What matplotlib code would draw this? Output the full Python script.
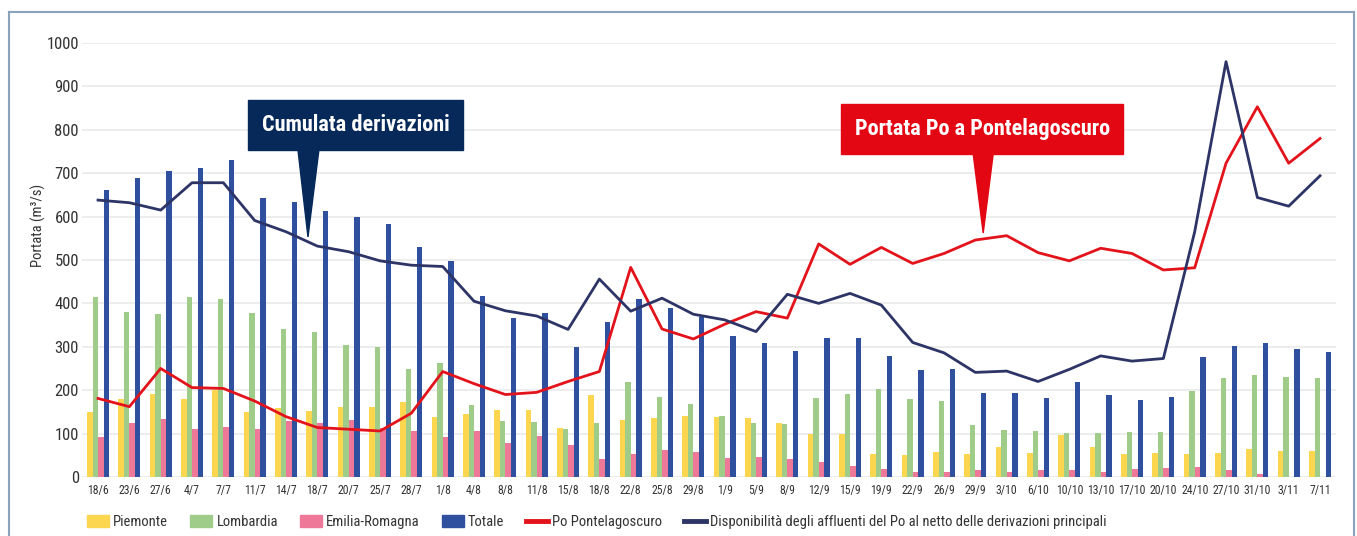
import matplotlib
matplotlib.use("Agg")
import matplotlib.pyplot as plt
from matplotlib.patches import Polygon, Rectangle, Patch
from matplotlib.lines import Line2D
import numpy as np

plt.rcParams['font.family'] = ['Roboto Condensed', 'Open Sans Condensed', 'Roboto', 'DejaVu Sans']

# Dates (rilevazioni)
dates = ["18/6", "23/6", "27/6", "4/7", "7/7", "11/7", "14/7", "18/7", "20/7", "25/7",
         "28/7", "1/8", "4/8", "8/8", "11/8", "15/8", "18/8", "22/8", "25/8", "29/8",
         "1/9", "5/9", "8/9", "12/9", "15/9", "19/9", "22/9", "26/9", "29/9", "3/10",
         "6/10", "10/10", "13/10", "17/10", "20/10", "24/10", "27/10", "31/10", "3/11", "7/11"]

piemonte = [149, 179, 191, 180, 200, 149, 158, 152, 161, 162,
            172, 139, 145, 154, 154, 114, 190, 131, 137, 141,
            139, 137, 125, 100, 98, 53, 50, 58, 53, 70,
            56, 97, 70, 53, 56, 52, 55, 64, 61, 60]

lombardia = [415, 381, 375, 415, 411, 379, 340, 335, 303, 300,
             248, 262, 165, 130, 126, 110, 125, 220, 185, 168,
             141, 124, 121, 183, 192, 203, 180, 174, 120, 108,
             106, 101, 101, 104, 104, 198, 227, 234, 231, 227]

emilia = [93, 125, 134, 111, 116, 111, 130, 124, 131, 112,
          106, 93, 105, 79, 94, 73, 41, 53, 62, 57,
          43, 45, 41, 34, 26, 19, 12, 12, 16, 11,
          15, 16, 12, 18, 20, 24, 16, 6, 1, 1]

totale = [662, 690, 705, 711, 730, 642, 634, 614, 598, 582,
          531, 498, 418, 366, 377, 300, 358, 410, 389, 368,
          325, 308, 290, 320, 320, 279, 247, 248, 193, 193,
          183, 218, 189, 177, 184, 277, 302, 308, 296, 288]

po_pontelagoscuro = [181, 162, 250, 206, 204, 175, 139, 114, 110, 106,
                     147, 243, 215, 190, 195, 220, 243, 483, 341, 318,
                     352, 381, 366, 537, 490, 529, 492, 515, 546, 556,
                     517, 498, 527, 515, 477, 482, 723, 853, 723, 780]

disponibilita = [638, 632, 615, 678, 678, 591, 565, 532, 519, 498,
                 488, 485, 405, 383, 371, 340, 456, 382, 412, 375,
                 362, 335, 421, 400, 423, 396, 310, 286, 241, 244,
                 220, 248, 279, 267, 273, 565, 957, 644, 624, 694]

c_yellow = "#fdd64f"
c_green = "#a0cc8a"
c_pink = "#ee7898"
c_blue = "#2f4f9f"
c_red = "#e3131b"
c_navy = "#2d3466"
c_text = "#333333"

fig = plt.figure(figsize=(13.57, 5.36), dpi=100)
ax = fig.add_axes([0.0607, 0.1101, 0.9236, 0.8097])

x = np.arange(len(dates))
w = 0.175
ax.bar(x - 1.5 * w, piemonte, w, color=c_yellow, zorder=2)
ax.bar(x - 0.5 * w, lombardia, w, color=c_green, zorder=2)
ax.bar(x + 0.5 * w, emilia, w, color=c_pink, zorder=2)
ax.bar(x + 1.5 * w, totale, w, color=c_blue, zorder=2)
ax.plot(x, po_pontelagoscuro, color=c_red, lw=2.0, zorder=3)
ax.plot(x, disponibilita, color=c_navy, lw=2.0, zorder=3)

ax.set_xlim(-0.5, len(dates) - 0.5)
ax.set_ylim(0, 1000)
ax.set_yticks(range(0, 1001, 100))
ax.set_xticks(x)
ax.set_xticklabels(dates)
ax.tick_params(axis="both", length=0, colors=c_text)
ax.tick_params(axis="y", labelsize=12, pad=2.5)
ax.tick_params(axis="x", labelsize=8.5, pad=5)
ax.grid(axis="y", color="#ececec", lw=1.3, zorder=0)
for s in ax.spines.values():
    s.set_visible(False)

fig.text(38 / 1357, 1 - 225 / 536, "Portata (m³/s)", rotation=90,
         ha="center", va="center", fontsize=10.5, color=c_text)


# callout boxes with a pointer
def callout(text, x0, x1, y0, y1, b0, b1, tip, color):
    ax.add_patch(Rectangle((x0, y0), x1 - x0, y1 - y0, color=color,
                           zorder=5, clip_on=False))
    ax.add_patch(Polygon([(b0, y0 + 1), (b1, y0 + 1), tip], closed=True,
                         color=color, zorder=5, clip_on=False))
    ax.text((x0 + x1) / 2, (y0 + y1) / 2, text, color="white", fontsize=16,
            fontweight="bold", ha="center", va="center", zorder=6)


callout("Cumulata derivazioni", 4.79, 11.65, 753, 869, 6.38, 7.05,
        (6.70, 553), "#06295a")
callout("Portata Po a Pontelagoscuro", 23.71, 32.72, 744, 859, 27.93, 28.57,
        (28.25, 562), "#e30613")

handles = [Patch(color=c_yellow), Patch(color=c_green), Patch(color=c_pink),
           Patch(color=c_blue), Line2D([], [], color=c_red, lw=3.5),
           Line2D([], [], color=c_navy, lw=3.5)]
labels = ["Piemonte", "Lombardia", "Emilia-Romagna", "Totale",
          "Po Pontelagoscuro", "Disponibilità degli affluenti del Po al netto delle derivazioni principali"]
fig.legend(handles, labels, ncol=6, loc="center left",
           bbox_to_anchor=(74 / 1357, 1 - 522 / 536), frameon=False,
           fontsize=10.5, handlelength=1.5, handleheight=0.85,
           handletextpad=0.3, columnspacing=1.5, labelcolor=c_text)

# outer frame
fc = "#8aa2bb"
fig.add_artist(Line2D([8.5 / 1357, 8.5 / 1357], [0, 1 - 11.5 / 536], color=fc, lw=1.5))
fig.add_artist(Line2D([8.5 / 1357, 1354 / 1357], [1 - 11.5 / 536, 1 - 11.5 / 536], color=fc, lw=1.5))
fig.add_artist(Line2D([1354 / 1357, 1354 / 1357], [0, 1 - 11.5 / 536], color=fc, lw=1.5))

fig.savefig("out.png", dpi=100)
